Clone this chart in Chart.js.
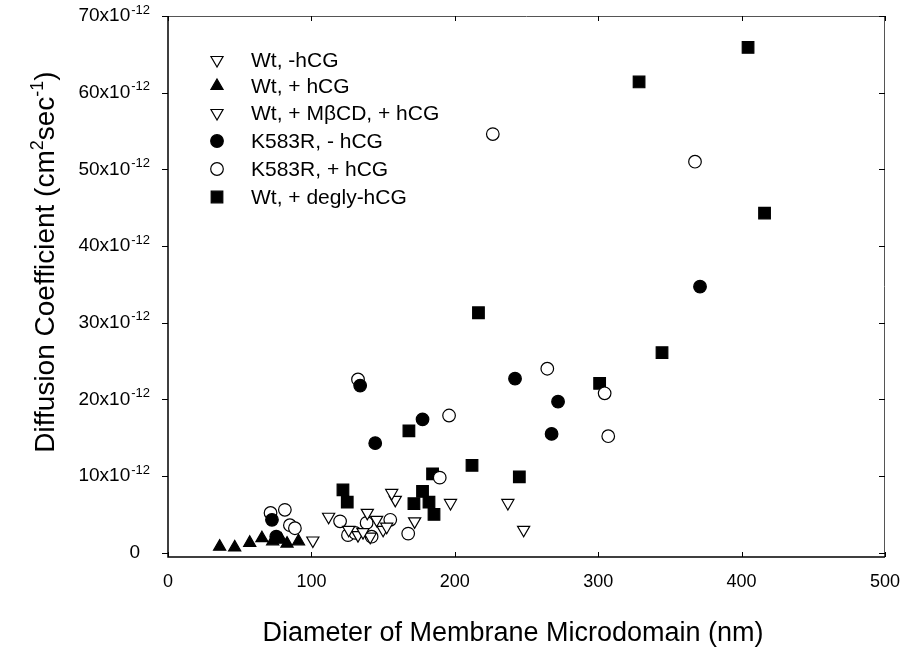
<!DOCTYPE html>
<html><head><meta charset="utf-8">
<script src="https://cdn.jsdelivr.net/npm/chart.js@4.4.1/dist/chart.umd.min.js"></script>
<style>html,body{margin:0;padding:0;background:#fff}</style>
</head><body>
<canvas id="c" width="908" height="656"></canvas>
<script>
// ---- data (x: diameter in nm, y: diffusion coefficient in units of 1e-12 cm^2/s) ----
const seriesLabels = ["Wt, -hCG", "Wt, + hCG", "Wt, + M\u03B2CD, + hCG", "K583R, - hCG", "K583R, + hCG", "Wt, + degly-hCG"];

const wtMinusHcg = [[101,1.6],[112,4.7],[126,3.0],[139,5.2],[152.5,3.4],[156,7.8],[172,4.1],[197,6.5],[237,6.5],[248,3.0]];
const wtPlusHcg = [[36,0.8],[46.5,0.7],[57,1.3],[65.5,1.9],[73,1.5],[79,1.7],[83,1.2],[91,1.5]];
const wtMbcdHcg = [[132.5,2.3],[141,2.1],[145.5,4.3],[150,3.0],[158.5,6.9],[136,2.7]];
const k583rMinusHcg = [[72.5,4.3],[75.5,2.1],[134,21.8],[144.5,14.3],[177.5,17.4],[242,22.7],[267.5,15.5],[272,19.7],[371,34.7]];
const k583rPlusHcg = [[71.5,5.2],[81.5,5.6],[85,3.6],[88.5,3.2],[120,4.1],[125.5,2.3],[130.5,2.6],[132.5,22.6],[138.5,3.9],[142,2.1],[155,4.3],[167.5,2.5],[189.5,9.8],[196,17.9],[226.5,54.6],[264.5,24.0],[304.5,20.8],[307,15.2],[367.5,51.0]];
const wtDeglyHcg = [[122,8.2],[125,6.6],[168,15.9],[171.5,6.4],[177.5,8.0],[182,6.6],[184.5,10.3],[185.5,5.0],[212,11.4],[216.5,31.3],[245,9.9],[301,22.1],[328.5,61.4],[344.5,26.1],[404.5,65.9],[416,44.3]];

const xTicks = [0,100,200,300,400,500];
const yTicks = [0,10,20,30,40,50,60,70];
const yTickExp = "-12";
const xTitle = "Diameter of Membrane Microdomain (nm)";

const FONT = "'Liberation Sans', Arial, Helvetica, sans-serif";
const toPts = a => a.map(p => ({x:p[0], y:p[1]}));

const markers = [
  {style:'triangle', rot:180, fill:'#fff', r:7},
  {style:'triangle', rot:0, fill:'#000', r:7},
  {style:'triangle', rot:180, fill:'#fff', r:7},
  {style:'circle', rot:0, fill:'#000', r:6.3},
  {style:'circle', rot:0, fill:'#fff', r:6.3},
  {style:'rect', rot:0, fill:'#000', r:8.2}
];
const allData = [wtMinusHcg, wtPlusHcg, wtMbcdHcg, k583rMinusHcg, k583rPlusHcg, wtDeglyHcg];

const datasets = allData.map((d,i) => ({
  label: seriesLabels[i],
  data: toPts(d),
  pointStyle: markers[i].style,
  rotation: markers[i].rot,
  pointRadius: markers[i].r,
  pointHoverRadius: markers[i].r,
  backgroundColor: markers[i].fill,
  borderColor: '#000',
  pointBorderWidth: 1.2,
  showLine: false
}));

function drawMarker(ctx, m, x, y) {
  ctx.save();
  ctx.fillStyle = m.fill; ctx.strokeStyle = '#000'; ctx.lineWidth = 1.2;
  ctx.beginPath();
  if (m.style === 'circle') {
    ctx.arc(x, y, m.r, 0, Math.PI*2);
  } else if (m.style === 'rect') {
    const s = m.r * Math.SQRT1_2;
    ctx.rect(x - s, y - s, 2*s, 2*s);
  } else {
    let rad = m.rot * Math.PI / 180;
    ctx.moveTo(x + Math.sin(rad)*m.r, y - Math.cos(rad)*m.r);
    for (let k=0;k<2;k++){ rad += 2*Math.PI/3; ctx.lineTo(x + Math.sin(rad)*m.r, y - Math.cos(rad)*m.r); }
    ctx.closePath();
  }
  ctx.fill(); ctx.stroke();
  ctx.restore();
}

const decor = {
  id: 'decor',
  afterDraw(chart) {
    const ctx = chart.ctx, a = chart.chartArea;
    const xs = chart.scales.x, ys = chart.scales.y;
    ctx.save();
    // frame
    ctx.strokeStyle = '#555'; ctx.lineWidth = 1;
    ctx.beginPath(); ctx.moveTo(a.left, a.top + 0.5); ctx.lineTo(a.right, a.top + 0.5);
    ctx.moveTo(a.right - 0.5, a.top); ctx.lineTo(a.right - 0.5, a.bottom); ctx.stroke();
    ctx.strokeStyle = '#000'; ctx.lineWidth = 1.5;
    ctx.beginPath(); ctx.moveTo(a.left, a.top); ctx.lineTo(a.left, a.bottom); ctx.lineTo(a.right, a.bottom); ctx.stroke();
    // ticks
    ctx.lineWidth = 1;
    ctx.strokeStyle = '#000';
    ctx.beginPath();
    xTicks.forEach(v => {
      const px = Math.round(xs.getPixelForValue(v)) + 0.5;
      ctx.moveTo(px, a.bottom); ctx.lineTo(px, a.bottom - 5);
      ctx.moveTo(px, a.top); ctx.lineTo(px, a.top + 5);
    });
    yTicks.forEach(v => {
      const py = Math.round(ys.getPixelForValue(v)) + 0.5;
      ctx.moveTo(a.left, py); ctx.lineTo(a.left - 6, py);
      ctx.moveTo(a.right, py); ctx.lineTo(a.right - 6, py);
    });
    ctx.stroke();
    // x tick labels
    ctx.fillStyle = '#000';
    ctx.font = '18px ' + FONT;
    ctx.textAlign = 'center'; ctx.textBaseline = 'middle';
    xTicks.forEach(v => ctx.fillText(String(v), xs.getPixelForValue(v), 582));
    // y tick labels with superscript exponent
    yTicks.forEach(v => {
      const py = ys.getPixelForValue(v);
      ctx.textBaseline = 'middle';
      if (v === 0) {
        ctx.font = '19px ' + FONT; ctx.textAlign = 'right';
        ctx.fillText('0', 140, py);
        return;
      }
      ctx.font = '13px ' + FONT; ctx.textAlign = 'right';
      const ew = ctx.measureText(yTickExp).width;
      ctx.fillText(yTickExp, 150, py - 6);
      ctx.font = '19px ' + FONT;
      ctx.fillText(v + 'x10', 150 - ew - 1, py);
    });
    // x title
    ctx.font = '27px ' + FONT; ctx.textAlign = 'center'; ctx.textBaseline = 'middle';
    ctx.fillText(xTitle, 513, 634);
    // y title rotated with superscripts
    const parts = [
      {t:'Diffusion Coefficient (cm', s:28, dy:0},
      {t:'2', s:18, dy:-11},
      {t:'sec', s:28, dy:0},
      {t:'-1', s:18, dy:-11},
      {t:')', s:28, dy:0}
    ];
    let total = 0;
    parts.forEach(p => { ctx.font = p.s + 'px ' + FONT; p.w = ctx.measureText(p.t).width; total += p.w; });
    ctx.translate(54, 262); ctx.rotate(-Math.PI/2);
    ctx.textAlign = 'left'; ctx.textBaseline = 'alphabetic';
    let cx = -total/2;
    parts.forEach(p => { ctx.font = p.s + 'px ' + FONT; ctx.fillText(p.t, cx, p.dy); cx += p.w; });
    ctx.setTransform(1,0,0,1,0,0);
    // legend
    const rows = [60, 86, 113, 141, 169, 197];
    ctx.font = '21px ' + FONT; ctx.textAlign = 'left'; ctx.textBaseline = 'middle';
    chart.data.datasets.forEach((ds, i) => {
      drawMarker(ctx, markers[i], 217, rows[i]);
      ctx.fillStyle = '#000';
      ctx.fillText(ds.label, 251, rows[i] + 1);
    });
    ctx.restore();
  }
};

new Chart(document.getElementById('c'), {
  type: 'scatter',
  data: { datasets },
  options: {
    responsive: false,
    devicePixelRatio: 1,
    animation: false,
    events: [],
    layout: { padding: { left: 168, right: 23, top: 16, bottom: 99 } },
    plugins: { legend: { display: false }, tooltip: { enabled: false } },
    scales: {
      x: { type: 'linear', min: 0, max: 500, display: false },
      y: { type: 'linear', min: -0.55, max: 70, display: false }
    }
  },
  plugins: [decor]
});
</script>
</body></html>
